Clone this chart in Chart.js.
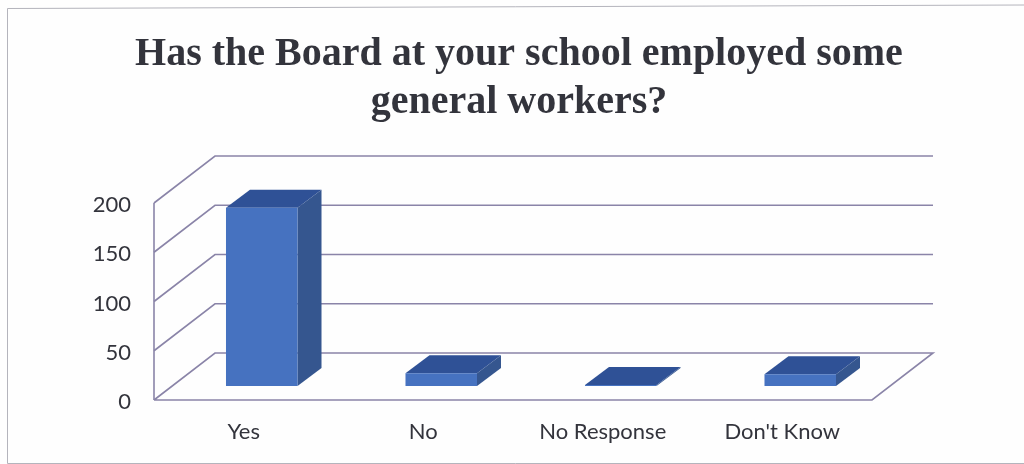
<!DOCTYPE html>
<html><head><meta charset="utf-8">
<style>html,body{margin:0;padding:0;background:#fff}#w{position:relative;width:1024px;height:464px;overflow:hidden}canvas{display:block}</style>
<script src="https://cdn.jsdelivr.net/npm/chart.js@4"></script></head>
<body><div id="w"><canvas id="c" width="1024" height="464"></canvas></div>
<script>
const categories = ["Yes", "No", "No Response", "Don't Know"];
const responses = [181, 13, 1, 12];
const yTicks = [0, 50, 100, 150, 200];
const titleLines = ["Has the Board at your school employed some", "general workers?"];

const WALL = {dx: 61, dy: -47};
const BAR_OFF = {dx: 18, dy: -14};
const BAR_DEPTH = {dx: 24, dy: -18};

const wallPlugin = {
  id: 'wall',
  beforeDraw(chart) {
    const {ctx, chartArea: a, scales: {y}} = chart;
    ctx.save();
    ctx.fillStyle = '#fefefe';
    ctx.fillRect(0, 0, chart.width, chart.height);
    ctx.strokeStyle = '#b4b4bc';
    ctx.lineWidth = 1;
    ctx.beginPath();
    ctx.moveTo(7.5, 463.5);
    ctx.lineTo(7.5, 8.5);
    ctx.lineTo(1024, 5);
    ctx.moveTo(7.5, 463.5);
    ctx.lineTo(1024, 463.5);
    ctx.stroke();
    ctx.strokeStyle = '#8a84a8';
    ctx.lineWidth = 1.6;
    yTicks.forEach(v => {
      const py = y.getPixelForValue(v);
      ctx.beginPath();
      ctx.moveTo(a.left, py);
      ctx.lineTo(a.left + WALL.dx, py + WALL.dy);
      ctx.lineTo(a.right + WALL.dx, py + WALL.dy);
      if (v === 0) { ctx.lineTo(a.right, py); ctx.lineTo(a.left, py); }
      ctx.stroke();
    });
    ctx.beginPath();
    ctx.moveTo(a.left, y.getPixelForValue(200));
    ctx.lineTo(a.left, y.getPixelForValue(0));
    ctx.stroke();
    ctx.restore();
  },
  beforeDatasetsDraw(chart) {
    const ctx = chart.ctx;
    ctx.save();
    ctx.translate(BAR_OFF.dx, BAR_OFF.dy);
    chart.getDatasetMeta(0).data.forEach(b => {
      const p = b.getProps(['x', 'y', 'base', 'width'], true);
      const l = p.x - p.width / 2, r = p.x + p.width / 2;
      ctx.fillStyle = '#2f5196';
      ctx.beginPath();
      ctx.moveTo(l, p.y);
      ctx.lineTo(l + BAR_DEPTH.dx, p.y + BAR_DEPTH.dy);
      ctx.lineTo(r + BAR_DEPTH.dx, p.y + BAR_DEPTH.dy);
      ctx.lineTo(r, p.y);
      ctx.closePath();
      ctx.fill();
      ctx.fillStyle = '#35568f';
      ctx.beginPath();
      ctx.moveTo(r, p.y);
      ctx.lineTo(r + BAR_DEPTH.dx, p.y + BAR_DEPTH.dy);
      ctx.lineTo(r + BAR_DEPTH.dx, p.base + BAR_DEPTH.dy);
      ctx.lineTo(r, p.base);
      ctx.closePath();
      ctx.fill();
    });
  },
  afterDatasetsDraw(chart) { chart.ctx.restore(); }
};

new Chart(document.getElementById('c'), {
  type: 'bar',
  data: {labels: categories, datasets: [{
    data: responses,
    backgroundColor: '#4672c0',
    barPercentage: 0.797, categoryPercentage: 0.5,
    clip: false
  }]},
  plugins: [wallPlugin],
  options: {
    responsive: false, animation: false,
    layout: {padding: {left: 14, right: 0, top: 31, bottom: 0}},
    plugins: {
      legend: {display: false}, tooltip: {enabled: false},
      title: {display: true, text: titleLines, color: '#33343c',
        font: {family: '"Liberation Serif"', size: 40, weight: 'bold', lineHeight: 1.2},
        padding: {top: 0, bottom: 76}}
    },
    scales: {
      x: {grid: {display: false}, border: {display: false},
        ticks: {color: '#33343c', font: {family: 'Lato', size: 22}, padding: 11},
        afterFit(s) { s.height = 64; }},
      y: {min: 0, max: 200, afterBuildTicks(s) { s.ticks = yTicks.map(v => ({value: v})); },
        grid: {display: false}, border: {display: false},
        ticks: {color: '#33343c', font: {family: 'Lato', size: 22}, padding: 15, labelOffset: 2},
        afterFit(s) { s.width = 140; }},
      depth: {position: 'right', display: true, grid: {display: false}, border: {display: false},
        ticks: {display: false}, afterFit(s) { s.width = 152; }}
    }
  }
});
</script></body></html>
